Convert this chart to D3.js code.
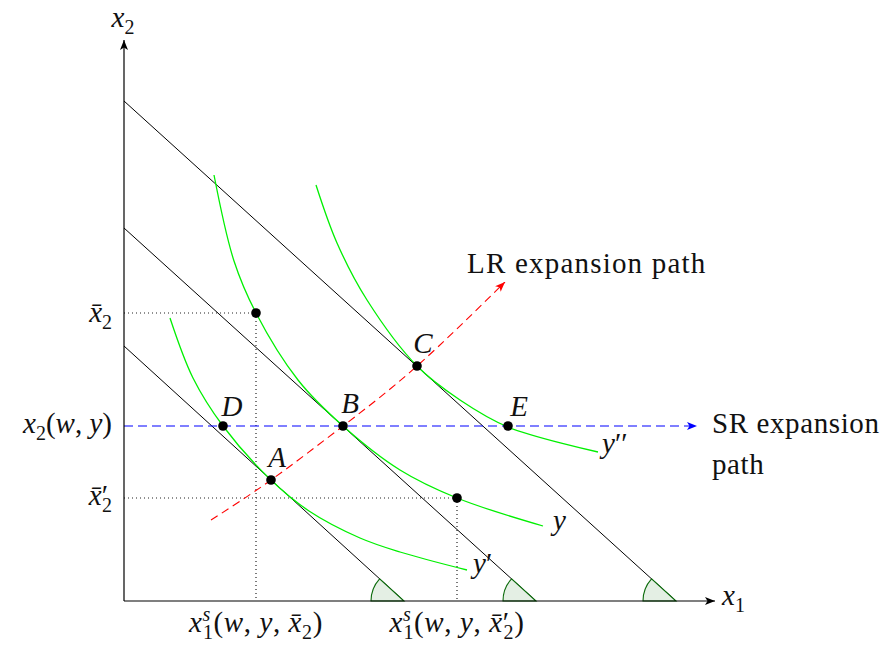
<!DOCTYPE html>
<html>
  <head>
    <meta charset="utf-8">
    <title>Short-run and long-run expansion paths</title>
    <script src="https://d3js.org/d3.v7.min.js"></script>
    <style>
      body { margin: 0; background: #fff; }
      text { font-family: "Liberation Serif", "Times New Roman", serif; font-size: 29px; fill: #111; }
    </style>
  </head>
  <body>
    <script>

    // isocost lines: [x1 intercept, x2 intercept]
    var isocostIntercepts = [[5.6, 5.1], [8.24, 7.46], [11.04, 10.0]];

    // isoquants, [x1, x2]
    var isoquantLow  = [[0.92, 5.66], [1.38, 4.46], [1.98, 3.5], [2.94, 2.42], [3.7, 1.8], [4.72, 1.26], [5.52, 0.98], [6.86, 0.62]];
    var isoquantMid  = [[1.8, 8.52], [2.2, 6.8], [2.64, 5.76], [3.48, 4.42], [4.38, 3.5], [5.52, 2.62], [6.66, 2.06], [8.38, 1.5]];
    var isoquantHigh = [[3.84, 8.32], [4.26, 7.16], [4.86, 6.02], [5.86, 4.7], [6.72, 4.02], [7.68, 3.48], [9.48, 2.98]];

    // named points
    var pointNames = ["A", "B", "C", "D", "E", "", ""];
    var pointX1    = [2.94, 4.38, 5.86, 1.98, 7.68, 2.64, 6.66];
    var pointX2    = [2.42, 3.5, 4.7, 3.5, 3.5, 5.76, 2.06];

    // long run expansion path (start, A, B, C, tip)
    var lrPath = [[1.74, 1.62], [2.94, 2.42], [4.38, 3.5], [5.86, 4.7], [7.62, 6.38]];
    var srLevel = 3.5, srEnd = 11.46;
    var x2bar = 5.76, x2barPrime = 2.06;

    var width = 885, height = 648;
    var x = d3.scaleLinear().domain([0, 11.82]).range([124, 715]);
    var y = d3.scaleLinear().domain([0, 11.22]).range([601, 40]);

    var svg = d3.select("body").append("svg")
                .attr("width", width)
                .attr("height", height);

    var defs = svg.append("defs");
    function marker(id, color) {
      defs.append("marker")
          .attr("id", id)
          .attr("viewBox", "0 0 10 8")
          .attr("refX", 10).attr("refY", 4)
          .attr("markerWidth", 10).attr("markerHeight", 8)
          .attr("markerUnits", "userSpaceOnUse")
          .attr("orient", "auto")
        .append("path")
          .attr("d", "M0,0 L10,4 L0,8 L2.5,4 Z")
          .attr("fill", color);
    }
    marker("arrBlack", "#000");
    marker("arrBlue", "#0000ff");
    marker("arrRed", "#ff0000");

    var line = d3.line().x(function(d) { return x(d[0]); }).y(function(d) { return y(d[1]); });
    var smooth = d3.line().curve(d3.curveNatural)
                   .x(function(d) { return x(d[0]); }).y(function(d) { return y(d[1]); });
    var spline = d3.line().curve(d3.curveCatmullRom.alpha(0.5))
                   .x(function(d) { return x(d[0]); }).y(function(d) { return y(d[1]); });

    // dotted guides
    var dotted = svg.append("g").attr("stroke", "#222").attr("stroke-width", 1.2)
                    .attr("stroke-dasharray", "1,3").attr("fill", "none");
    [[pointX1[5], x2bar], [pointX1[6], x2barPrime]].forEach(function(p) {
      dotted.append("path").attr("d", line([[0, p[1]], p]));
      dotted.append("path").attr("d", line([p, [p[0], 0]]));
    });

    // isocost lines
    svg.append("g").selectAll("path")
       .data(isocostIntercepts).enter()
       .append("path")
         .attr("d", function(d) { return line([[0, d[1]], [d[0], 0]]); })
         .attr("stroke", "#000").attr("stroke-width", 1).attr("fill", "none");

    // angle wedges at the x1 intercepts
    var arc = d3.arc().innerRadius(0).outerRadius(33);
    svg.append("g").selectAll("path")
       .data(isocostIntercepts).enter()
       .append("path")
         .attr("transform", function(d) { return "translate(" + x(d[0]) + "," + y(0) + ")"; })
         .attr("d", function(d) {
           var dx = x(0) - x(d[0]), dy = y(d[1]) - y(0);
           return arc({startAngle: -Math.PI / 2, endAngle: Math.atan2(dx, -dy)});
         })
         .attr("fill", "#e4efe4").attr("stroke", "#0b6b0b").attr("stroke-width", 1.1);

    // isoquants
    svg.append("g").selectAll("path")
       .data([isoquantLow, isoquantMid, isoquantHigh]).enter()
       .append("path")
         .attr("d", spline)
         .attr("stroke", "#00f000").attr("stroke-width", 1.3).attr("fill", "none");

    // expansion paths
    svg.append("path")
       .attr("d", line([[0, srLevel], [srEnd, srLevel]]))
       .attr("stroke", "#0000ff").attr("stroke-width", 1.2)
       .attr("stroke-dasharray", "9,5").attr("fill", "none")
       .attr("marker-end", "url(#arrBlue)");
    svg.append("path")
       .attr("d", smooth(lrPath))
       .attr("stroke", "#ff0000").attr("stroke-width", 1.1)
       .attr("stroke-dasharray", "8,5").attr("fill", "none")
       .attr("marker-end", "url(#arrRed)");

    // axes
    svg.append("path").attr("d", line([[0, 0], [11.82, 0]]))
       .attr("stroke", "#000").attr("stroke-width", 1.2).attr("marker-end", "url(#arrBlack)");
    svg.append("path").attr("d", line([[0, 0], [0, 11.22]]))
       .attr("stroke", "#000").attr("stroke-width", 1.2).attr("marker-end", "url(#arrBlack)");

    // points
    svg.append("g").selectAll("circle")
       .data(pointX1).enter()
       .append("circle")
         .attr("cx", function(d) { return x(d); })
         .attr("cy", function(d, i) { return y(pointX2[i]); })
         .attr("r", 4.8).attr("fill", "#000");

    // math-ish labels: runs of [text, style, dx] with i = italic, _ = sub, ^ = sup
    function mathText(px, py, runs, anchor) {
      var t = svg.append("text").attr("x", px).attr("y", py)
                 .attr("text-anchor", anchor || "start");
      var level = 0;
      runs.forEach(function(r) {
        var st = r[1] || "";
        var shift = st.indexOf("_") >= 0 ? 7 : (st.indexOf("^") >= 0 ? -11 : 0);
        var ts = t.append("tspan").text(r[0]).attr("dy", shift - level);
        level = shift;
        if (st.indexOf("i") >= 0) ts.attr("font-style", "italic");
        if (shift !== 0) ts.attr("font-size", "20px");
        if (r[2]) ts.attr("dx", r[2]);
      });
      return t;
    }

    pointNames.forEach(function(n, i) {
      if (!n) return;
      var off = {A: [6, -13], B: [7, -13], C: [6, -13], D: [9, -10], E: [11, -10]}[n];
      mathText(x(pointX1[i]) + off[0], y(pointX2[i]) + off[1], [[n, "i"]], "middle");
    });

    mathText(123, 27, [["x", "i"], ["2", "_"]], "middle");
    mathText(722, 605, [["x", "i"], ["1", "_"]]);

    mathText(112, 322, [["x\u0304", "i"], ["2", "_"]], "end");
    mathText(112, 433, [["x", "i"], ["2", "_"], ["(", ""], ["w", "i"], [", ", ""], ["y", "i"], [")", ""]], "end");
    mathText(112, 505, [["x\u0304", "i"], ["\u2032", ""], ["2", "_", -6]], "end");

    var xs1 = [["x", "i"], ["s", "i^"], ["1", "_", -8], ["(", ""], ["w", "i"], [", ", ""], ["y", "i"], [", ", ""], ["x\u0304", "i"], ["2", "_"], [")", ""]];
    mathText(x(pointX1[5]), 632, xs1, "middle").attr("letter-spacing", 0.6);
    var xs2 = [["x", "i"], ["s", "i^"], ["1", "_", -8], ["(", ""], ["w", "i"], [", ", ""], ["y", "i"], [", ", ""], ["x\u0304", "i"], ["\u2032", ""], ["2", "_", -6], [")", ""]];
    mathText(x(pointX1[6]), 632, xs2, "middle").attr("letter-spacing", 0.6);

    mathText(602, 453, [["y", "i"], ["\u2032\u2032", ""]]);
    mathText(553, 530, [["y", "i"]]);
    mathText(473, 573, [["y", "i"], ["\u2032", ""]]);

    svg.append("text").attr("x", 467).attr("y", 273).attr("letter-spacing", 1.2).text("LR expansion path");
    svg.append("text").attr("x", 712).attr("y", 433).attr("letter-spacing", 0.6).text("SR expansion");
    svg.append("text").attr("x", 712).attr("y", 474).attr("letter-spacing", 0.6).text("path");

    </script>
  </body>
</html>
